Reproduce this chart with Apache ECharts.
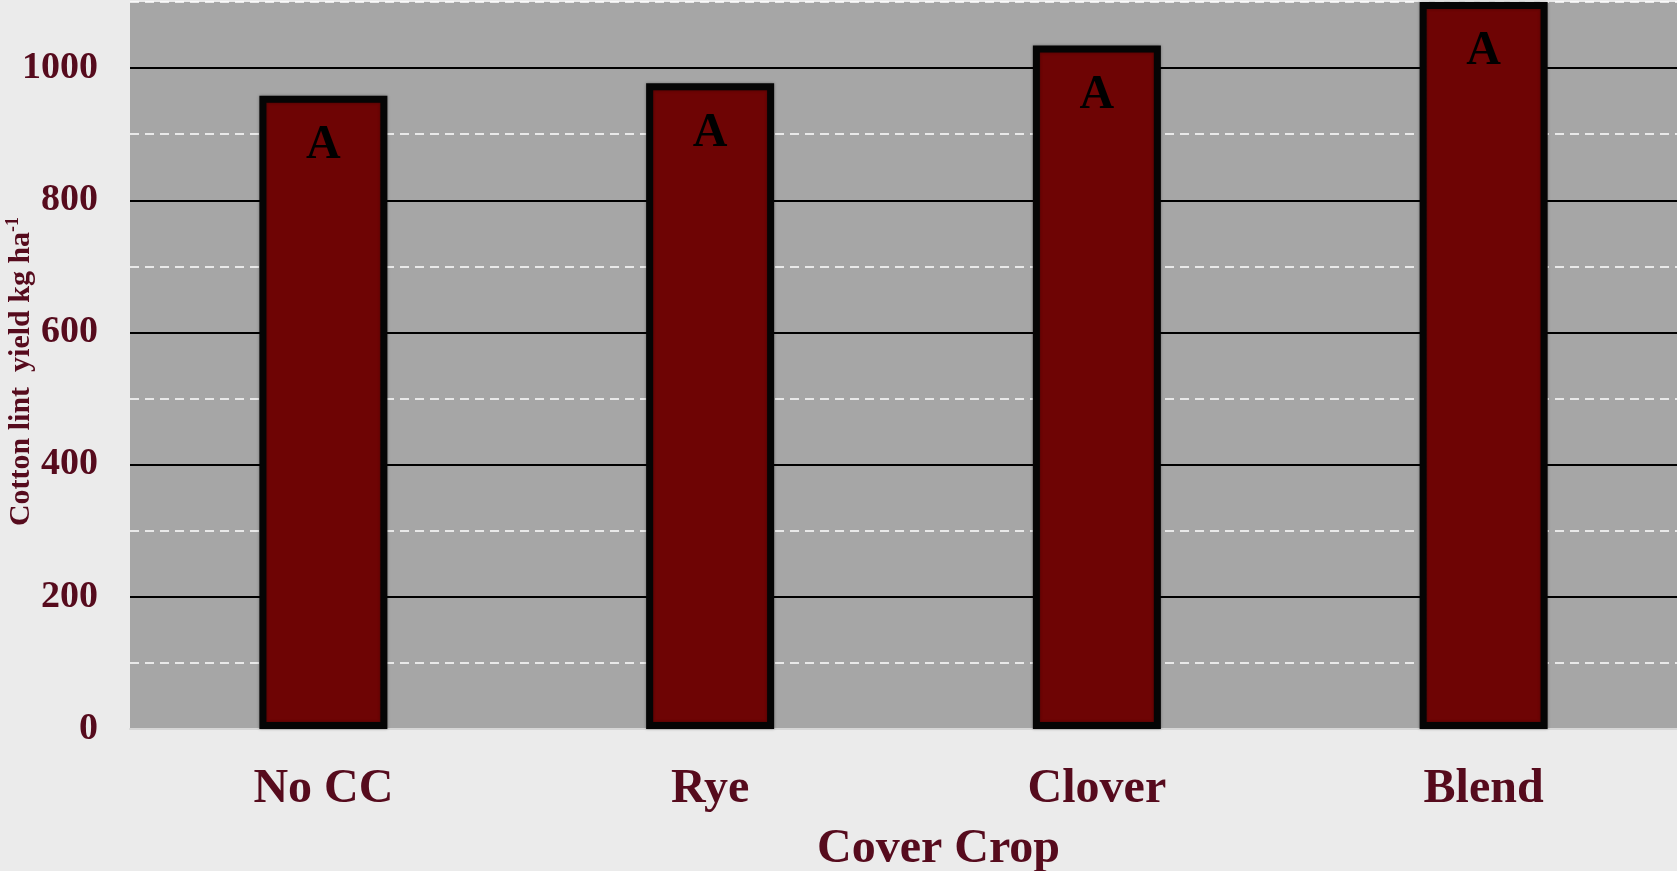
<!DOCTYPE html>
<html>
<head>
<meta charset="utf-8">
<script src="https://cdn.jsdelivr.net/npm/echarts@6/dist/echarts.min.js"></script>
<style>
html,body{margin:0;padding:0;background:#ebebeb;}
#chart{width:1677px;height:871px;}
</style>
</head>
<body>
<div id="chart"></div>
<script>
const categories = ['No CC', 'Rye', 'Clover', 'Blend'];
const yieldValues = [958, 977, 1034, 1100];
const letters = ['A', 'A', 'A', 'A'];
const yMin = 0, yMax = 1100, majorStep = 200, minorStep = 100;

const maroon = '#560b1d';
const serif = '"Liberation Serif", "Times New Roman", serif';

const chart = echarts.init(document.getElementById('chart'));
chart.setOption({
  backgroundColor: '#ebebeb',
  animation: false,
  grid: {
    left: 130, right: 0, top: 2, bottom: 142,
    containLabel: false,
    outerBoundsMode: 'none',
    show: true, backgroundColor: '#a6a6a6', borderWidth: 0
  },
  xAxis: {
    type: 'category',
    data: categories,
    name: 'Cover Crop',
    nameLocation: 'middle',
    nameGap: 97,
    nameMoveOverlap: false,
    nameTextStyle: { fontFamily: serif, fontWeight: 'bold', fontSize: 48, color: maroon, padding: [0, 0, 0, 70] },
    axisLine: { show: true, lineStyle: { color: '#d6d6d6', width: 2 } },
    axisTick: { show: false },
    axisLabel: { margin: 37, fontFamily: serif, fontWeight: 'bold', fontSize: 48, color: maroon },
    splitLine: { show: false }
  },
  yAxis: [
    {
      type: 'value',
      min: yMin, max: yMax, interval: majorStep,
      name: '{a|Cotton lint  yield kg ha}{s|-1}',
      nameLocation: 'middle',
      nameGap: 94,
      nameMoveOverlap: false,
      nameTextStyle: {
        padding: [0, 12, 0, 0],
        rich: {
          a: { fontFamily: serif, fontWeight: 'bold', fontSize: 30, color: maroon, verticalAlign: 'bottom' },
          s: { fontFamily: serif, fontWeight: 'bold', fontSize: 18, color: maroon, verticalAlign: 'top', padding: [0, 0, 14, 0] }
        }
      },
      axisLine: { show: false },
      axisTick: { show: false },
      axisLabel: {
        margin: 32, fontFamily: serif, fontWeight: 'bold', fontSize: 38, color: maroon,
        showMaxLabel: false,
        formatter: v => (v % majorStep === 0 ? String(v) : '')
      },
      splitLine: { show: true, showMinLine: false, showMaxLine: false, lineStyle: { color: '#000', width: 2, type: 'solid' } },
      z: 3
    },
    {
      type: 'value',
      min: yMin, max: yMax, interval: minorStep,
      position: 'left',
      axisLine: { show: false },
      axisTick: { show: false },
      axisLabel: { show: false },
      splitLine: { show: true, lineStyle: { color: ['transparent', '#ffffff'], width: 1.5, type: [9, 6] } },
      z: 2
    }
  ],
  series: [{
    type: 'bar',
    data: yieldValues,
    yAxisIndex: 0,
    barWidth: 128,
    clip: true,
    itemStyle: {
      color: {
        type: 'linear', x: 0, y: 0, x2: 1, y2: 0,
        colorStops: [
          { offset: 0, color: '#5a0303' },
          { offset: 0.06, color: '#6e0404' },
          { offset: 0.94, color: '#6e0404' },
          { offset: 1, color: '#5a0303' }
        ]
      },
      borderColor: '#050505',
      borderWidth: 7,
      shadowColor: 'rgba(0,0,0,0.35)',
      shadowBlur: 3
    },
    label: {
      show: true,
      position: 'insideTop',
      distance: 26,
      formatter: p => letters[p.dataIndex],
      fontFamily: serif, fontWeight: 'bold', fontSize: 48, color: '#000'
    },
    z: 5
  }]
});
</script>
</body>
</html>
